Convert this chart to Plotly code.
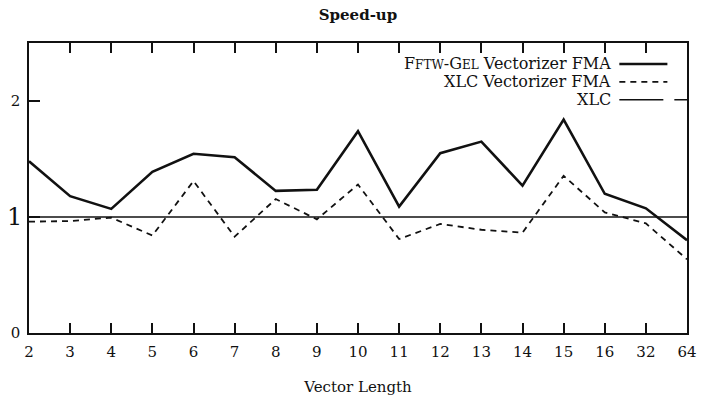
import plotly.graph_objects as go

# Vector lengths on the x axis (categorical)
vector_lengths = ["2", "3", "4", "5", "6", "7", "8", "9", "10", "11",
                  "12", "13", "14", "15", "16", "32", "64"]

# Speed-up relative to XLC
fftw_gel_fma = [1.48, 1.18, 1.07, 1.39, 1.545, 1.515, 1.225, 1.235, 1.74, 1.09,
                1.55, 1.65, 1.27, 1.84, 1.20, 1.075, 0.80]
xlc_vect_fma = [0.96, 0.965, 0.995, 0.84, 1.31, 0.83, 1.155, 0.98, 1.28, 0.81,
                0.94, 0.89, 0.865, 1.355, 1.04, 0.945, 0.635]
xlc_baseline = [1.0] * len(vector_lengths)

y_tick_vals = [0, 1, 2]
y_tick_text = ["0", "", "2"]
baseline_label = "1"

legend_labels = [
    "F<span style='font-size:12px'>FTW</span>-G<span style='font-size:12px'>EL</span> Vectorizer FMA",
    "XLC Vectorizer FMA",
    "XLC",
]

SERIF = "DejaVu Serif, Liberation Serif, serif"
INK = "#111111"

fig = go.Figure()
fig.add_trace(go.Scatter(x=vector_lengths, y=xlc_baseline, mode="lines",
                         line=dict(color=INK, width=1.4), showlegend=False))
fig.add_trace(go.Scatter(x=vector_lengths, y=xlc_vect_fma, mode="lines",
                         line=dict(color=INK, width=1.8, dash="6px,5px"), showlegend=False))
fig.add_trace(go.Scatter(x=vector_lengths, y=fftw_gel_fma, mode="lines",
                         line=dict(color=INK, width=2.6), showlegend=False))

# Enlarged label for the XLC baseline level
fig.add_annotation(xref="paper", yref="y", x=0, y=1, text=baseline_label,
                   showarrow=False, xanchor="right", yanchor="middle", xshift=-5,
                   font=dict(family=SERIF, size=24, color=INK))

# Legend drawn by hand: right-aligned labels with the line sample to their right
legend_dash = ["solid", "6px,5px", "44px,11px"]
legend_width = [2.6, 1.8, 1.4]
row_y = [65, 83, 101]  # pixel rows from the top of the page
for label, dash, w, ry in zip(legend_labels, legend_dash, legend_width, row_y):
    fig.add_annotation(xref="paper", yref="paper", x=(622 - 26) / 671,
                       y=(335 - ry) / 291, text=label, showarrow=False,
                       xanchor="right", yanchor="middle",
                       font=dict(family=SERIF, size=16, color=INK))
    x1 = 677 if dash != "44px,11px" else 697
    fig.add_shape(type="line", xref="paper", yref="paper",
                  x0=(628 - 26) / 671, x1=(x1 - 26) / 671,
                  y0=(335 - ry) / 291, y1=(335 - ry) / 291,
                  line=dict(color=INK, width=w, dash=dash))

fig.update_layout(
    width=708, height=404,
    margin=dict(l=26, r=11, t=43, b=69),
    paper_bgcolor="white", plot_bgcolor="white",
    font=dict(family=SERIF, size=15, color=INK),
    title=dict(text="<b>Speed-up</b>", x=0.5, xref="paper", xanchor="center",
               y=1 - 15 / 404, yref="container", yanchor="middle",
               font=dict(family=SERIF, size=15, color=INK)),
    xaxis=dict(type="category", range=[0, len(vector_lengths) - 1],
               showgrid=False, zeroline=False,
               showline=True, linecolor=INK, linewidth=1.6, mirror="ticks",
               ticks="inside", ticklen=10, tickwidth=1.6, tickcolor=INK,
               ticklabelstandoff=4,
               tickfont=dict(family=SERIF, size=15, color=INK),
               title=dict(text="Vector Length", standoff=22,
                          font=dict(family=SERIF, size=15, color=INK))),
    yaxis=dict(range=[0, 2.5], showgrid=False, zeroline=False,
               showline=True, linecolor=INK, linewidth=1.6, mirror=True,
               tickmode="array", tickvals=y_tick_vals, ticktext=y_tick_text,
               ticks="inside", ticklen=11, tickwidth=1.6, tickcolor=INK,
               ticklabelstandoff=4,
               tickfont=dict(family=SERIF, size=15, color=INK)),
)

fig.write_html("out.html")
